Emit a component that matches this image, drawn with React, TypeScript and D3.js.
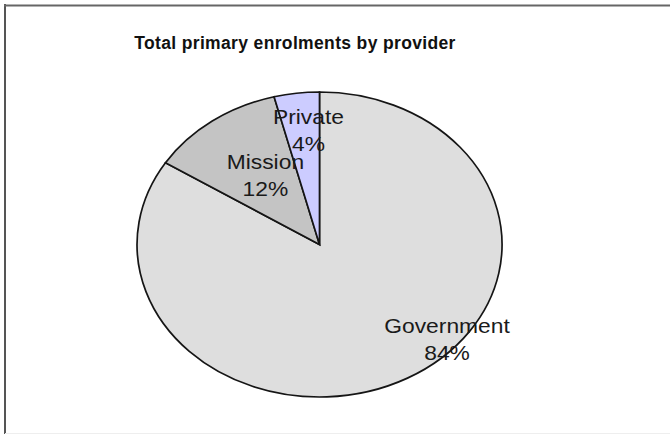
import React from "react";
import * as d3 from "d3";

const categories = ["Government", "Mission", "Private"];
const values = [84, 12, 4];
const percentLabels = ["84%", "12%", "4%"];
const fills = ["#dedede", "#c4c4c4", "#ccccff"];
// label offsets (px) from the 0.7-radius point on each slice's mid-angle
const labelOffsets: [number, number][] = [[66, -5], [21, 11], [5, -15]];

const W = 670, H = 439;
const cx = 319.5, cy = 244.5, rx = 182.5, ry = 152.5;

export default function App() {
  const pie = d3.pie<number>().sort(null).startAngle(0).endAngle(2 * Math.PI);
  const arcs = pie(values);
  const arcGen = d3.arc<d3.PieArcDatum<number>>().innerRadius(0).outerRadius(1);
  return (
    <svg width={W} height={H} style={{ position: "absolute", left: 0, top: 0, background: "#fff" }}>
      <rect x={0} y={0} width={W} height={H} fill="#fff" />
      <line x1={5} y1={4} x2={5} y2={434} stroke="#555" strokeWidth={2} />
      <line x1={4} y1={5.5} x2={W} y2={5.5} stroke="#666" strokeWidth={2} />
      <line x1={5} y1={433.5} x2={W} y2={433.5} stroke="#eee" strokeWidth={1} />
      <text x={295} y={49} textAnchor="middle" fontFamily="Liberation Sans, Arial, sans-serif" fontWeight="bold" fontSize={17.5} letterSpacing={0.35} fill="#111">
        Total primary enrolments by provider
      </text>
      <g transform={`translate(${cx},${cy}) scale(${rx},${ry})`}>
        {arcs.map((a, i) => (
          <path key={categories[i]} d={arcGen(a) || ""} fill={fills[i]} stroke="#151515" strokeWidth={1.7} vectorEffect="non-scaling-stroke" />
        ))}
      </g>
      {arcs.map((a, i) => {
        const mid = (a.startAngle + a.endAngle) / 2;
        const f = 0.7;
        const x = cx + rx * f * Math.sin(mid) + labelOffsets[i][0];
        const y = cy - ry * f * Math.cos(mid) + labelOffsets[i][1];
        return (
          <g key={"l" + i} transform={`translate(${x},${y}) scale(1.17,1)`}>
            <text textAnchor="middle" fontFamily="Liberation Sans, Arial, sans-serif" fontSize={19.5} fill="#1a1a1a">
              <tspan x={0} y={0}>{categories[i]}</tspan>
              <tspan x={0} y={27}>{percentLabels[i]}</tspan>
            </text>
          </g>
        );
      })}
    </svg>
  );
}
